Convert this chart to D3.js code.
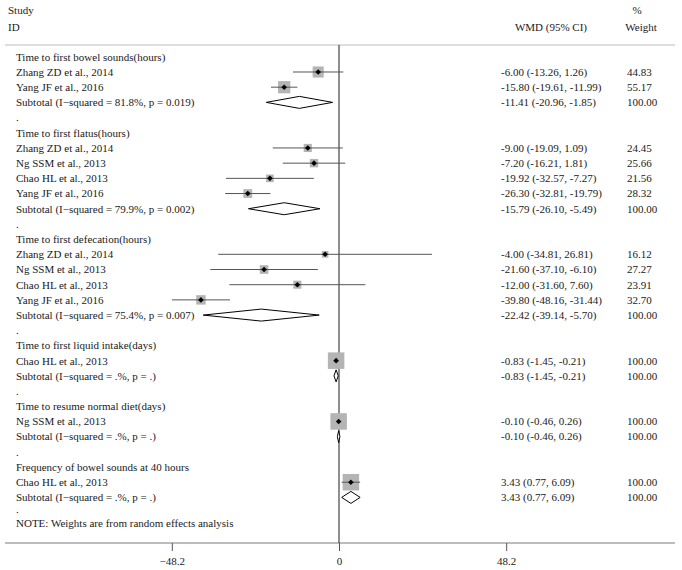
<!DOCTYPE html>
<html lang="en">
<head>
<meta charset="utf-8">
<title>Forest plot: WMD (95% CI)</title>
<script src="https://cdn.jsdelivr.net/npm/d3@7"></script>
<style>
  body { margin: 0; background: #fff; }
  svg text { font-family: "Liberation Serif", "Times New Roman", "DejaVu Serif", serif; font-size: 11px; fill: #1a1a1a; }
</style>
</head>
<body>
<script>
// Row labels, top to bottom
var rowLabels = [
  "Time to first bowel sounds(hours)",
  "Zhang ZD et al., 2014",
  "Yang JF et al., 2016",
  "Subtotal (I\u2212squared = 81.8%, p = 0.019)",
  ".",
  "Time to first flatus(hours)",
  "Zhang ZD et al., 2014",
  "Ng SSM et al., 2013",
  "Chao HL et al., 2013",
  "Yang JF et al., 2016",
  "Subtotal (I\u2212squared = 79.9%, p = 0.002)",
  ".",
  "Time to first defecation(hours)",
  "Zhang ZD et al., 2014",
  "Ng SSM et al., 2013",
  "Chao HL et al., 2013",
  "Yang JF et al., 2016",
  "Subtotal (I\u2212squared = 75.4%, p = 0.007)",
  ".",
  "Time to first liquid intake(days)",
  "Chao HL et al., 2013",
  "Subtotal (I\u2212squared = .%, p = .)",
  ".",
  "Time to resume normal diet(days)",
  "Ng SSM et al., 2013",
  "Subtotal (I\u2212squared = .%, p = .)",
  ".",
  "Frequency of bowel sounds at 40 hours",
  "Chao HL et al., 2013",
  "Subtotal (I\u2212squared = .%, p = .)"
];
// h = heading, s = study, t = subtotal, b = blank
var rowTypes = ["h","s","s","t","b","h","s","s","s","s","t","b","h","s","s","s","s","t","b","h","s","t","b","h","s","t","b","h","s","t"];

var estimates = [null,-6.00,-15.80,-11.41,null,null,-9.00,-7.20,-19.92,-26.30,-15.79,null,null,-4.00,-21.60,-12.00,-39.80,-22.42,null,null,-0.83,-0.83,null,null,-0.10,-0.10,null,null,3.43,3.43];
var lowerCI  = [null,-13.26,-19.61,-20.96,null,null,-19.09,-16.21,-32.57,-32.81,-26.10,null,null,-34.81,-37.10,-31.60,-48.16,-39.14,null,null,-1.45,-1.45,null,null,-0.46,-0.46,null,null,0.77,0.77];
var upperCI  = [null,1.26,-11.99,-1.85,null,null,1.09,1.81,-7.27,-19.79,-5.49,null,null,26.81,-6.10,7.60,-31.44,-5.70,null,null,-0.21,-0.21,null,null,0.26,0.26,null,null,6.09,6.09];
var weights  = [null,44.83,55.17,100.00,null,null,24.45,25.66,21.56,28.32,100.00,null,null,16.12,27.27,23.91,32.70,100.00,null,null,100.00,100.00,null,null,100.00,100.00,null,null,100.00,100.00];

var tickValues = [-48.2, 0, 48.2];

var w = 682, h = 570;

var svg = d3.select("body").append("svg")
  .attr("width", w)
  .attr("height", h);

// scales
var x = d3.scaleLinear().domain([-48.2, 48.2]).range([171.8, 506.2]);
var y = d3.scaleLinear().domain([0, 29]).range([56.8, 497.4]);
var boxSide = d3.scaleSqrt().domain([0, 100]).range([0, 16.5]);
var f2 = d3.format(".2f");
var fmt = function(v) { return f2(v).replace("\u2212", "-"); };

// header
svg.append("text").attr("x", 8).attr("y", 14).text("Study");
svg.append("text").attr("x", 8).attr("y", 31).text("ID");
svg.append("text").attr("x", 551).attr("y", 31).attr("text-anchor", "middle").text("WMD (95% CI)");
svg.append("text").attr("x", 637).attr("y", 14).attr("text-anchor", "middle").text("%");
svg.append("text").attr("x", 641).attr("y", 31).attr("text-anchor", "middle").text("Weight");

// top rule
svg.append("line")
  .attr("x1", 5).attr("x2", 675).attr("y1", 45).attr("y2", 45)
  .attr("stroke", "#bdbdbd").attr("stroke-width", 1);

// bottom axis line
var axisY = 543;
svg.append("line")
  .attr("x1", 5).attr("x2", 675).attr("y1", axisY).attr("y2", axisY)
  .attr("stroke", "#7a7a7a").attr("stroke-width", 1.2);

// no-effect line
svg.append("line")
  .attr("x1", x(0)).attr("x2", x(0)).attr("y1", 45).attr("y2", axisY)
  .attr("stroke", "#444").attr("stroke-width", 1.2);

var axis = svg.append("g")
  .attr("transform", "translate(0," + axisY + ")")
  .call(d3.axisBottom(x).tickValues(tickValues).tickSize(8).tickPadding(6)
    .tickFormat(function(d) { return d === 0 ? "0" : d3.format(".1f")(d); }));
axis.select(".domain").remove();
axis.selectAll(".tick line").attr("stroke", "#555");
axis.selectAll(".tick text")
  .style("font-family", "'Liberation Serif', 'Times New Roman', serif").style("font-size", "11px").attr("fill", "#1a1a1a");

var rows = rowLabels.map(function(label, i) {
  return { i: i, label: label, type: rowTypes[i], est: estimates[i], lo: lowerCI[i], hi: upperCI[i], wt: weights[i] };
});

// left labels
svg.selectAll("text.lab")
  .data(rows)
  .enter().append("text")
  .attr("class", "lab")
  .attr("x", 16)
  .attr("y", function(d) { return y(d.i); })
  .attr("dy", "0.35em")
  .text(function(d) { return d.label; });

// trailing blank row dot and the note
svg.append("text").attr("x", 16).attr("y", 509).attr("dy", "0.35em").text(".");
svg.append("text").attr("x", 16).attr("y", 523.5).attr("dy", "0.35em")
  .text("NOTE: Weights are from random effects analysis");

var studies = rows.filter(function(d) { return d.type === "s"; });
var subtotals = rows.filter(function(d) { return d.type === "t"; });

// weight boxes
svg.selectAll("rect.box")
  .data(studies)
  .enter().append("rect")
  .attr("class", "box")
  .attr("x", function(d) { return x(d.est) - boxSide(d.wt) / 2; })
  .attr("y", function(d) { return y(d.i) - boxSide(d.wt) / 2; })
  .attr("width", function(d) { return boxSide(d.wt); })
  .attr("height", function(d) { return boxSide(d.wt); })
  .attr("fill", "#b4b4b4");

// CI lines
svg.selectAll("line.ci")
  .data(studies)
  .enter().append("line")
  .attr("class", "ci")
  .attr("x1", function(d) { return x(d.lo); })
  .attr("x2", function(d) { return x(d.hi); })
  .attr("y1", function(d) { return y(d.i); })
  .attr("y2", function(d) { return y(d.i); })
  .attr("stroke", "#555").attr("stroke-width", 1);

// point estimate markers
svg.selectAll("path.pt")
  .data(studies)
  .enter().append("path")
  .attr("class", "pt")
  .attr("transform", function(d) { return "translate(" + x(d.est) + "," + y(d.i) + ")"; })
  .attr("d", "M0,-2.8L2.8,0L0,2.8L-2.8,0Z")
  .attr("fill", "#000");

// subtotal diamonds
svg.selectAll("path.dia")
  .data(subtotals)
  .enter().append("path")
  .attr("class", "dia")
  .attr("d", function(d) {
    var cy = y(d.i), hh = 6;
    return "M" + x(d.lo) + "," + cy + "L" + x(d.est) + "," + (cy - hh) +
      "L" + x(d.hi) + "," + cy + "L" + x(d.est) + "," + (cy + hh) + "Z";
  })
  .attr("fill", "#fff").attr("stroke", "#000").attr("stroke-width", 1);

// right columns
var valued = rows.filter(function(d) { return d.est !== null; });
svg.selectAll("text.ci")
  .data(valued)
  .enter().append("text")
  .attr("class", "ci")
  .attr("x", 501)
  .attr("y", function(d) { return y(d.i); })
  .attr("dy", "0.35em")
  .text(function(d) { return fmt(d.est) + " (" + fmt(d.lo) + ", " + fmt(d.hi) + ")"; });

svg.selectAll("text.wt")
  .data(valued)
  .enter().append("text")
  .attr("class", "wt")
  .attr("x", 627)
  .attr("y", function(d) { return y(d.i); })
  .attr("dy", "0.35em")
  .text(function(d) { return f2(d.wt); });
</script>
</body>
</html>
